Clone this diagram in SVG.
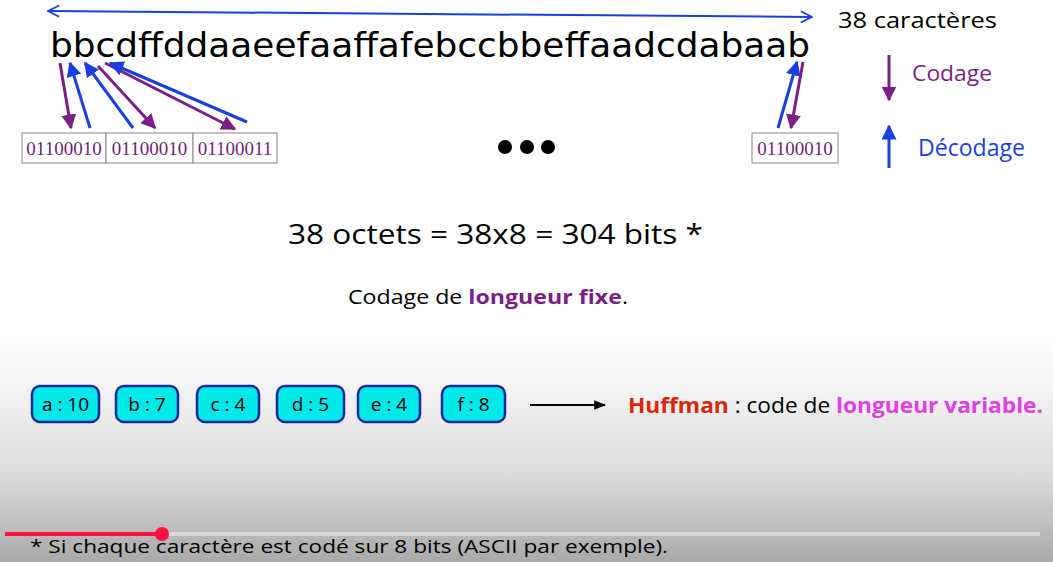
<svg xmlns="http://www.w3.org/2000/svg" width="1053" height="562" viewBox="0 0 1053 562">
<style>
.seq{font-family:"DejaVu Sans","Noto Sans",sans-serif;font-size:34px;fill:#000}
.bin{font-family:"Liberation Serif",serif;font-size:19px;fill:#6e1f78}
.box{fill:#fff;stroke:#888;stroke-width:1}
.lbl{font-family:"Open Sans","Noto Sans",sans-serif;fill:#000}
.node rect{fill:#00e8e8;stroke:#1a2a9a;stroke-width:2.5}
.node text{font-family:"Open Sans","Noto Sans",sans-serif;font-size:19px;fill:#000;text-anchor:middle}
.pur{stroke:#7a1f86;stroke-width:3;fill:none}
.blu{stroke:#1a3fe0;stroke-width:3;fill:none}
</style>
<defs>
<linearGradient id="bg" x1="0" y1="0" x2="0" y2="1">
<stop offset="0" stop-color="#ffffff"/>
<stop offset="0.6" stop-color="#ffffff"/>
<stop offset="0.7" stop-color="#f2f2f2"/>
<stop offset="0.85" stop-color="#dadada"/>
<stop offset="1" stop-color="#a9a9a9"/>
</linearGradient>
<marker id="hp" viewBox="0 0 10 10" refX="9" refY="5" markerWidth="5" markerHeight="5" orient="auto" markerUnits="strokeWidth"><path d="M0,0 L10,5 L0,10 z" fill="#7a1f86"/></marker>
<marker id="hb" viewBox="0 0 10 10" refX="9" refY="5" markerWidth="5" markerHeight="5" orient="auto" markerUnits="strokeWidth"><path d="M0,0 L10,5 L0,10 z" fill="#1a3fe0"/></marker>
<marker id="hk" viewBox="0 0 10 10" refX="9" refY="5" markerWidth="6" markerHeight="6" orient="auto" markerUnits="strokeWidth"><path d="M0,1 L10,5 L0,9 z" fill="#000"/></marker>
<marker id="open" viewBox="0 0 10 10" refX="9" refY="5" markerWidth="7" markerHeight="7" orient="auto-start-reverse" markerUnits="strokeWidth"><path d="M1,1 L9,5 L1,9" fill="none" stroke="#1a3fe0" stroke-width="1.3"/></marker>
</defs>
<rect width="1053" height="562" fill="url(#bg)"/>

<g id="top-arrow"><line x1="48" y1="11" x2="812" y2="17" stroke="#1a3fe0" stroke-width="2" marker-start="url(#open)" marker-end="url(#open)"/></g>
<text id="count" class="lbl" x="838" y="28" font-size="22" textLength="159" lengthAdjust="spacingAndGlyphs">38 caractères</text>
<text id="sequence" class="seq" x="50" y="57" textLength="760" lengthAdjust="spacingAndGlyphs">bbcdffddaaeefaaffafebccbbeffaadcdabaab</text>

<g id="bin1"><rect class="box" x="22" y="133" width="84" height="30"/><text class="bin" x="64" y="155" text-anchor="middle">01100010</text></g>
<g id="bin2"><rect class="box" x="106" y="133" width="87" height="30"/><text class="bin" x="149.5" y="155" text-anchor="middle">01100010</text></g>
<g id="bin3"><rect class="box" x="193" y="133" width="84" height="30"/><text class="bin" x="235" y="155" text-anchor="middle">01100011</text></g>
<g id="bin4"><rect class="box" x="752" y="133" width="86" height="30"/><text class="bin" x="795" y="155" text-anchor="middle">01100010</text></g>

<g id="ellipsis" fill="#000"><circle cx="505" cy="147" r="7"/><circle cx="527" cy="147" r="7"/><circle cx="548" cy="147" r="7"/></g>

<g id="connectors">
<line class="pur" x1="60" y1="63" x2="71" y2="128" marker-end="url(#hp)"/>
<line class="blu" x1="90" y1="128" x2="70" y2="63" marker-end="url(#hb)"/>
<line class="blu" x1="133" y1="128" x2="85" y2="63" marker-end="url(#hb)"/>
<line class="pur" x1="98" y1="66" x2="155" y2="128" marker-end="url(#hp)"/>
<line class="pur" x1="105" y1="63" x2="235" y2="129" marker-end="url(#hp)"/>
<line class="blu" x1="247" y1="122" x2="110" y2="63" marker-end="url(#hb)"/>
<line class="blu" x1="778" y1="128" x2="797" y2="62" marker-end="url(#hb)"/>
<line class="pur" x1="803" y1="62" x2="791" y2="128" marker-end="url(#hp)"/>
<line class="pur" x1="889" y1="55" x2="889" y2="100" marker-end="url(#hp)"/>
<line class="blu" x1="889" y1="168" x2="889" y2="126" marker-end="url(#hb)"/>
<line x1="530" y1="405" x2="605" y2="405" stroke="#000" stroke-width="2" marker-end="url(#hk)"/>
</g>
<text id="codage" class="lbl" x="912" y="81" font-size="21" style="fill:#7a1f86" textLength="80" lengthAdjust="spacingAndGlyphs">Codage</text>
<text id="decodage" class="lbl" x="918" y="156" font-size="23" style="fill:#1a3fe0" textLength="107" lengthAdjust="spacingAndGlyphs">Décodage</text>

<text id="total" class="lbl" x="288" y="244" font-size="27" textLength="415" lengthAdjust="spacingAndGlyphs">38 octets = 38x8 = 304 bits *</text>
<text id="fixed" class="lbl" x="348" y="304" font-size="20" textLength="280" lengthAdjust="spacingAndGlyphs">Codage de <tspan font-weight="bold" style="fill:#7a1f86">longueur fixe</tspan>.</text>

<g id="node-a" class="node"><rect x="32" y="386" width="67" height="36" rx="8"/><text x="65.5" y="411">a : 10</text></g>
<g id="node-b" class="node"><rect x="116" y="386" width="62" height="36" rx="8"/><text x="147" y="411">b : 7</text></g>
<g id="node-c" class="node"><rect x="197" y="386" width="62" height="36" rx="8"/><text x="228" y="411">c : 4</text></g>
<g id="node-d" class="node"><rect x="277" y="386" width="67" height="36" rx="8"/><text x="310.5" y="411">d : 5</text></g>
<g id="node-e" class="node"><rect x="358" y="386" width="62" height="36" rx="8"/><text x="389" y="411">e : 4</text></g>
<g id="node-f" class="node"><rect x="442" y="386" width="63" height="36" rx="8"/><text x="473.5" y="411">f : 8</text></g>

<text id="huffman" class="lbl" x="628" y="413" font-size="21" textLength="415" lengthAdjust="spacingAndGlyphs"><tspan font-weight="bold" style="fill:#d8280c">Huffman</tspan> : code de <tspan font-weight="bold" style="fill:#e040e0">longueur variable.</tspan></text>

<g id="progress">
<rect x="5" y="532" width="1035" height="4" fill="#d8d8d8"/>
<rect x="5" y="532" width="157" height="4" fill="#ff1040"/>
<circle cx="162" cy="534" r="7" fill="#ff1040"/>
</g>
<text id="footnote" class="lbl" x="30" y="553" font-size="19" textLength="638" lengthAdjust="spacingAndGlyphs">* Si chaque caractère est codé sur 8 bits (ASCII par exemple).</text>
</svg>
